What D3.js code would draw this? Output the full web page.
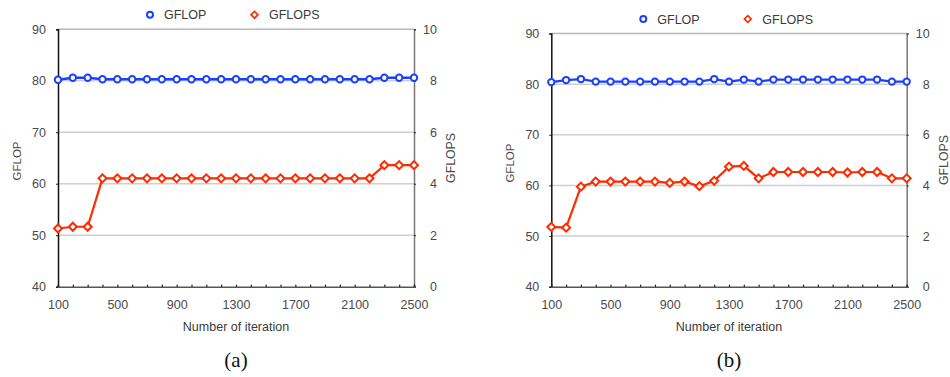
<!DOCTYPE html>
<html>
<head>
<meta charset="utf-8">
<script src="https://cdn.jsdelivr.net/npm/d3@7"></script>
<style>
  html, body { margin: 0; padding: 0; background: #fff; }
  svg { display: block; }
  .tick text { font-family: "Liberation Sans", Arial, sans-serif; font-size: 12.5px; fill: #4a4a4a; }
</style>
</head>
<body>
<svg id="chart" width="950" height="377"></svg>
<script>
// Iteration counts on the x axis
const iterations = [100, 200, 300, 400, 500, 600, 700, 800, 900, 1000, 1100, 1200, 1300,
                    1400, 1500, 1600, 1700, 1800, 1900, 2000, 2100, 2200, 2300, 2400, 2500];
const xTickLabels = [100, 500, 900, 1300, 1700, 2100, 2500];
const leftTicks = [40, 50, 60, 70, 80, 90];
const rightTicks = [0, 2, 4, 6, 8, 10];
const seriesNames = ["GFLOP", "GFLOPS"];
const panelLabels = ["(a)", "(b)"];

// Panel (a)
const gflopA = [80.2, 80.6, 80.6, 80.3, 80.3, 80.3, 80.3, 80.3, 80.3, 80.3, 80.3, 80.3, 80.3,
                80.3, 80.3, 80.3, 80.3, 80.3, 80.3, 80.3, 80.3, 80.3, 80.6, 80.6, 80.6];
const gflopsA = [2.26, 2.33, 2.33, 4.21, 4.21, 4.21, 4.21, 4.21, 4.21, 4.21, 4.21, 4.21, 4.21,
                 4.21, 4.21, 4.21, 4.21, 4.21, 4.21, 4.21, 4.21, 4.21, 4.72, 4.72, 4.72];

// Panel (b)
const gflopB = [80.4, 80.8, 81.0, 80.5, 80.5, 80.5, 80.5, 80.5, 80.5, 80.5, 80.5, 81.0, 80.5,
                80.9, 80.5, 80.9, 80.9, 80.9, 80.9, 80.9, 80.9, 80.9, 80.9, 80.5, 80.5];
const gflopsB = [2.36, 2.33, 3.95, 4.15, 4.15, 4.15, 4.15, 4.15, 4.10, 4.15, 3.97, 4.18, 4.74,
                 4.77, 4.28, 4.53, 4.53, 4.53, 4.53, 4.53, 4.51, 4.53, 4.53, 4.28, 4.28];

const BLUE = "#1a40ff";
const RED = "#ff2a00";
const SANS = '"Liberation Sans", Arial, Helvetica, sans-serif';
const SERIF = '"Liberation Serif", "DejaVu Serif", serif';

const svg = d3.select("#chart");
svg.append("rect").attr("width", 950).attr("height", 377).attr("fill", "#fff");

const diamond = d3.symbol().type(d3.symbolSquare).size(32);

function drawPanel(p) {
  const g = svg.append("g");
  const x = d3.scaleLinear().domain([100, 2500]).range([p.x0, p.x1]);
  const yL = d3.scaleLinear().domain([40, 90]).range([p.y1, p.y0]);
  const yR = d3.scaleLinear().domain([0, 10]).range([p.y1, p.y0]);

  // horizontal grid
  g.selectAll(".grid").data(leftTicks.filter(v => v > 40)).join("line")
    .attr("x1", p.x0).attr("x2", p.x1)
    .attr("y1", d => yL(d)).attr("y2", d => yL(d))
    .attr("stroke", d => d === 90 ? "#b8b8b8" : "#cfcfcf").attr("stroke-width", 1.5);

  // left axis
  const axL = g.append("g").attr("transform", `translate(${p.x0},0)`)
    .call(d3.axisLeft(yL).tickValues(leftTicks).tickSize(2).tickPadding(10));
  axL.select(".domain").attr("stroke", "#111").attr("stroke-width", 1.5);
  axL.selectAll(".tick line").attr("stroke", "#222");

  // right axis
  const axR = g.append("g").attr("transform", `translate(${p.x1},0)`)
    .call(d3.axisRight(yR).tickValues(rightTicks).tickSize(2));
  axR.select(".domain").attr("stroke", "#777").attr("stroke-width", 1.5);
  axR.selectAll(".tick line").attr("stroke", "#222");
  axR.selectAll(".tick text").attr("x", 23).attr("text-anchor", "end");

  // bottom axis: minor ticks at every iteration, labels every 400
  const axB = g.append("g").attr("transform", `translate(0,${p.y1})`)
    .call(d3.axisBottom(x).tickValues(iterations).tickSize(-2).tickFormat(""));
  axB.select(".domain").attr("stroke", "#555").attr("stroke-width", 1.5);
  axB.selectAll(".tick line").attr("stroke", "#111").attr("stroke-width", 1.2);
  const axBL = g.append("g").attr("transform", `translate(0,${p.y1})`)
    .call(d3.axisBottom(x).tickValues(xTickLabels).tickSize(0).tickPadding(13).tickFormat(d3.format("d")));
  axBL.select(".domain").remove();

  // axis titles
  g.append("text").attr("transform", `translate(${p.x0 - 37},${(p.y0 + p.y1) / 2 + 3}) rotate(-90)`)
    .attr("text-anchor", "middle").attr("font-family", SANS).attr("font-size", 11.5)
    .attr("fill", "#4a4a4a").text(seriesNames[0]);
  g.append("text").attr("transform", `translate(${p.x1 + 41},${(p.y0 + p.y1) / 2}) rotate(-90)`)
    .attr("text-anchor", "middle").attr("font-family", SANS).attr("font-size", 12.3)
    .attr("fill", "#4a4a4a").text(seriesNames[1]);
  g.append("text").attr("x", (p.x0 + p.x1) / 2).attr("y", 331)
    .attr("text-anchor", "middle").attr("font-family", SANS).attr("font-size", 12.5)
    .attr("fill", "#3a3a3a").text("Number of iteration");
  g.append("text").attr("x", (p.x0 + p.x1) / 2).attr("y", 367)
    .attr("text-anchor", "middle").attr("font-family", SERIF).attr("font-size", 21)
    .attr("fill", "#111").text(p.label);

  // series
  const lineL = d3.line().x((d, i) => x(iterations[i])).y(d => yL(d));
  const lineR = d3.line().x((d, i) => x(iterations[i])).y(d => yR(d));

  g.append("path").datum(p.gflops).attr("d", lineR)
    .attr("fill", "none").attr("stroke", RED).attr("stroke-width", 2.2).attr("stroke-linejoin", "round");
  g.selectAll(".mR").data(p.gflops).join("path")
    .attr("d", diamond)
    .attr("transform", (d, i) => `translate(${x(iterations[i])},${yR(d)}) rotate(45)`)
    .attr("fill", "#fff").attr("stroke", RED).attr("stroke-width", 2);

  g.append("path").datum(p.gflop).attr("d", lineL)
    .attr("fill", "none").attr("stroke", BLUE).attr("stroke-width", 2.4).attr("stroke-linejoin", "round");
  g.selectAll(".mL").data(p.gflop).join("circle")
    .attr("cx", (d, i) => x(iterations[i])).attr("cy", d => yL(d)).attr("r", 3.2)
    .attr("fill", "#fff").attr("stroke", BLUE).attr("stroke-width", 2);

  // legend
  const ly = p.y0 - 14.5;
  const lx = p.x0 + 92;
  g.append("circle").attr("cx", lx).attr("cy", ly).attr("r", 3)
    .attr("fill", "#fff").attr("stroke", BLUE).attr("stroke-width", 2);
  g.append("text").attr("x", lx + 14).attr("y", ly + 4.5).attr("font-family", SANS)
    .attr("font-size", 12.5).attr("fill", "#3a3a3a").text(seriesNames[0]);
  g.append("path").attr("d", diamond)
    .attr("transform", `translate(${lx + 104.5},${ly}) rotate(45) scale(0.85)`)
    .attr("fill", "#fff").attr("stroke", RED).attr("stroke-width", 2);
  g.append("text").attr("x", lx + 119).attr("y", ly + 4.5).attr("font-family", SANS)
    .attr("font-size", 12.5).attr("fill", "#3a3a3a").text(seriesNames[1]);
}

drawPanel({ x0: 58, x1: 414, y0: 29.3, y1: 286.7, gflop: gflopA, gflops: gflopsA, label: panelLabels[0] });
drawPanel({ x0: 551.3, x1: 906.7, y0: 33.5, y1: 286.7, gflop: gflopB, gflops: gflopsB, label: panelLabels[1] });
</script>
</body>
</html>
